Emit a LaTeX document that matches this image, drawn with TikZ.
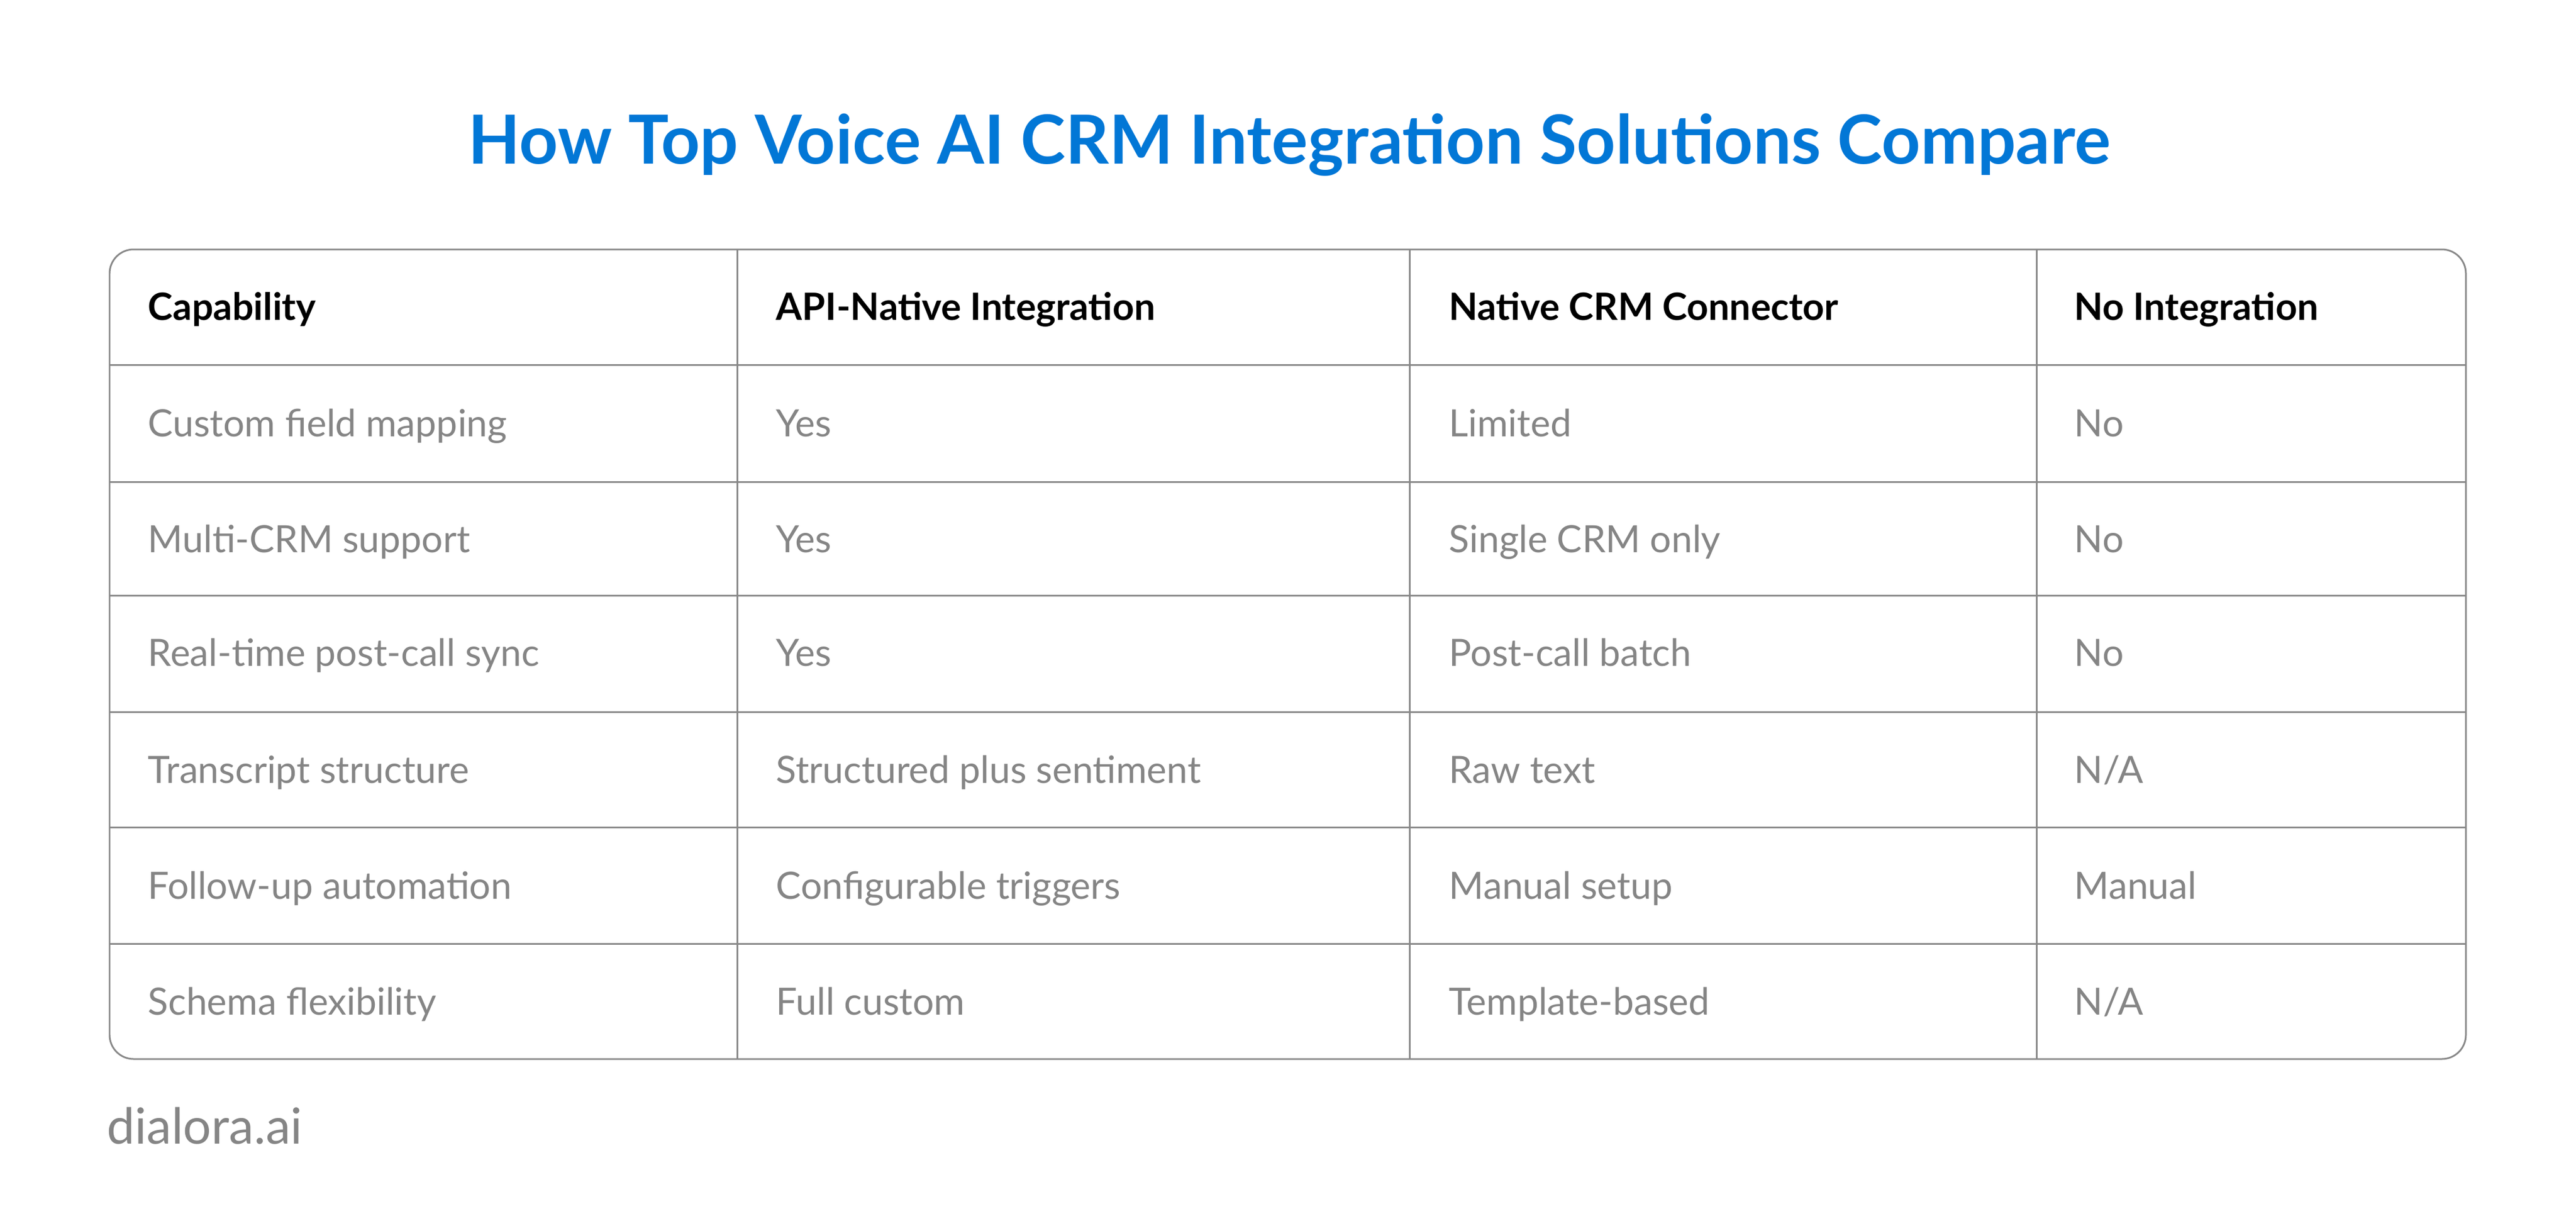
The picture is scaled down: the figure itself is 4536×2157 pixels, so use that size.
\documentclass[tikz,border=0pt]{standalone}
\usepackage{fontspec}
\setmainfont{Lato}
\definecolor{titleblue}{HTML}{0277D6}
\definecolor{gridgray}{HTML}{888888}
\definecolor{bodygray}{HTML}{858585}
\tikzset{
  x=0.01cm,y=-0.01cm,
  titletext/.style={font=\fontsize{33.9}{44}\selectfont\bfseries,text=titleblue,anchor=base,inner sep=0pt},
  headtext/.style={font=\fontsize{18.8}{26}\selectfont\bfseries,text=black,anchor=base west,inner sep=0pt},
  celltext/.style={font=\fontsize{18.8}{26}\selectfont,text=bodygray,anchor=base west,inner sep=0pt},
  brandtext/.style={font=\fontsize{24.9}{30}\selectfont,text=bodygray,anchor=base west,inner sep=0pt},
  gridline/.style={draw=gridgray,line width=0.85pt},
}
\begin{document}
\begin{tikzpicture}
\useasboundingbox (0,0) rectangle (4536,2157);
\fill[white] (0,0) rectangle (4536,2157);
\node[titletext] (title) at (2270,288) {How Top Voice AI CRM Integration Solutions Compare};
% grid
\draw[gridline,rounded corners=12pt] (193,439) rectangle (4342,1864);
\foreach \yy in {642,848,1048,1253,1456,1661}{\draw[gridline] (193,\yy) -- (4342,\yy);}
\foreach \xx in {1298,2482,3586}{\draw[gridline] (\xx,439) -- (\xx,1864);}
% header
\node[headtext] (h1) at (260,563) {Capability};
\node[headtext] (h2) at (1366,563) {API-Native Integration};
\node[headtext] (h3) at (2551,563) {Native CRM Connector};
\node[headtext] (h4) at (3652,563) {No Integration};
% rows
\node[celltext] (a1) at (260,768) {Custom field mapping};
\node[celltext] (b1) at (1366,768) {Yes};
\node[celltext] (c1) at (2551,768) {Limited};
\node[celltext] (d1) at (3652,768) {No};
\node[celltext] (a2) at (260,972) {Multi-CRM support};
\node[celltext] (b2) at (1366,972) {Yes};
\node[celltext] (c2) at (2551,972) {Single CRM only};
\node[celltext] (d2) at (3652,972) {No};
\node[celltext] (a3) at (260,1172) {Real-time post-call sync};
\node[celltext] (b3) at (1366,1172) {Yes};
\node[celltext] (c3) at (2551,1172) {Post-call batch};
\node[celltext] (d3) at (3652,1172) {No};
\node[celltext] (a4) at (260,1378) {Transcript structure};
\node[celltext] (b4) at (1366,1378) {Structured plus sentiment};
\node[celltext] (c4) at (2551,1378) {Raw text};
\node[celltext] (d4) at (3652,1378) {N/A};
\node[celltext] (a5) at (260,1582) {Follow-up automation};
\node[celltext] (b5) at (1366,1582) {Configurable triggers};
\node[celltext] (c5) at (2551,1582) {Manual setup};
\node[celltext] (d5) at (3652,1582) {Manual};
\node[celltext] (a6) at (260,1786) {Schema flexibility};
\node[celltext] (b6) at (1366,1786) {Full custom};
\node[celltext] (c6) at (2551,1786) {Template-based};
\node[celltext] (d6) at (3652,1786) {N/A};
\node[brandtext] (brand) at (188,2013) {dialora.ai};
\end{tikzpicture}
\end{document}
